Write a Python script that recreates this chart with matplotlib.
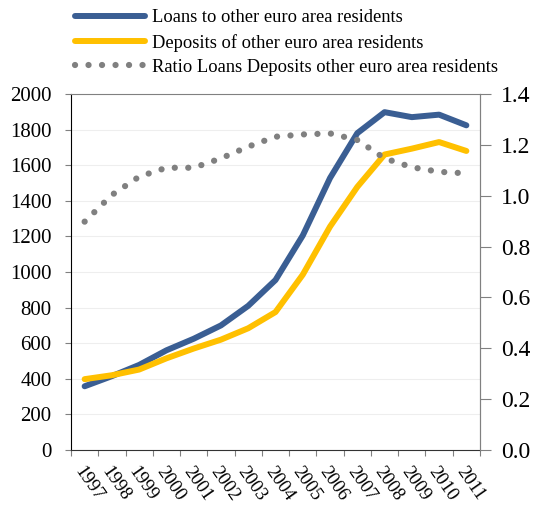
import matplotlib
matplotlib.use("Agg")
import matplotlib.pyplot as plt
from matplotlib.lines import Line2D

plt.rcParams['font.family'] = ['Liberation Serif', 'DejaVu Serif']

# data
years = [str(y) for y in range(1997, 2012)]
loans = [358, 415, 478, 560, 625, 700, 810, 955, 1205, 1528, 1780, 1898, 1870, 1884, 1824]
deposits = [398, 420, 452, 515, 570, 620, 684, 775, 985, 1255, 1478, 1660, 1693, 1730, 1680]
ratio = [0.898, 1.003, 1.075, 1.11, 1.11, 1.147, 1.193, 1.232, 1.241, 1.245, 1.219, 1.147, 1.112, 1.094, 1.088]

blue = '#3A5E93'
gold = '#FFC000'
grey = '#808080'
dots = (0, (0.01, 2.15))

fig = plt.figure(figsize=(5.35, 5.09), dpi=100)
ax = fig.add_axes([71 / 535, 1 - 450 / 509, 409 / 535, 356 / 509])
x = list(range(len(years)))

ax.plot(x, loans, color=blue, lw=4.3, solid_capstyle='round', zorder=3)
ax.plot(x, deposits, color=gold, lw=4.3, solid_capstyle='round', zorder=3)

ax.set_ylim(0, 2000)
ax.set_yticks(range(0, 2001, 200))
ax.set_xlim(-0.5, len(years) - 0.5)
ax.set_xticks([i - 0.5 for i in range(len(years) + 1)])
ax.set_xticklabels([])
ax.set_xticks(x, minor=True)
ax.set_xticklabels(years, minor=True, rotation=-55, ha='left', va='top',
                   rotation_mode='anchor', fontsize=13.5)
ax.tick_params(axis='x', which='minor', length=0, pad=10)
ax.tick_params(axis='x', which='major', length=4, color=grey, direction='out')
ax.tick_params(axis='y', length=4, color=grey, labelsize=15, pad=10)
ax.grid(axis='y', color='#EEEEEE', lw=0.8, zorder=0)

ax.spines['left'].set_color('black')
ax.spines['bottom'].set_color('#333333')
ax.spines['top'].set_color(grey)
ax.spines['right'].set_color(grey)

ax2 = ax.twinx()
ax2.plot(x, ratio, color=grey, lw=4.5, linestyle=dots, dash_capstyle='round')
ax2.set_ylim(0, 1.4)
ax2.set_yticks([0.0, 0.2, 0.4, 0.6, 0.8, 1.0, 1.2, 1.4])
ax2.set_yticklabels(['0.0', '0.2', '0.4', '0.6', '0.8', '1.0', '1.2', '1.4'])
ax2.tick_params(axis='y', length=8, color=grey, labelsize=17, pad=7)
for s in ax2.spines.values():
    s.set_visible(False)
ax2.spines['right'].set_visible(True)
ax2.spines['right'].set_color(grey)

handles = [
    Line2D([], [], color=blue, lw=4.3, solid_capstyle='round'),
    Line2D([], [], color=gold, lw=4.3, solid_capstyle='round'),
    Line2D([], [], color=grey, lw=4.5, linestyle=dots, dash_capstyle='round'),
]
labels = ['Loans to other euro area residents',
          'Deposits of other euro area residents',
          'Ratio Loans Deposits other euro area residents']
fig.legend(handles, labels, loc='upper left', bbox_to_anchor=(66 / 535, 1.0),
           frameon=False, fontsize=13.3, handlelength=3.8, handletextpad=0.35,
           labelspacing=0.4, borderaxespad=0.1)

fig.savefig('out.png', dpi=100)
